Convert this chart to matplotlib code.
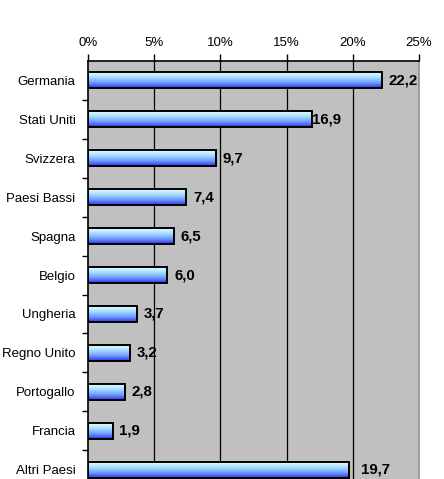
import matplotlib.pyplot as plt
import numpy as np
from matplotlib.colors import LinearSegmentedColormap

paesi = ["Germania", "Stati Uniti", "Svizzera", "Paesi Bassi", "Spagna", "Belgio",
         "Ungheria", "Regno Unito", "Portogallo", "Francia", "Altri Paesi"]
quote = [22.2, 16.9, 9.7, 7.4, 6.5, 6.0, 3.7, 3.2, 2.8, 1.9, 19.7]
etichette = ["22,2", "16,9", "9,7", "7,4", "6,5", "6,0", "3,7", "3,2", "2,8", "1,9", "19,7"]
x_ticks = [0, 5, 10, 15, 20, 25]

# spostamento orizzontale delle etichette (punti), come nell'originale Excel
offset_pt = [4.5, 0, 4.5, 5, 4.5, 5, 5, 4.5, 4.5, 4.5, 9]

plt.rcParams["font.family"] = ["Liberation Sans", "DejaVu Sans"]

fig = plt.figure(figsize=(4.44, 4.79), dpi=100)
ax = fig.add_axes([88 / 444, 0.0, 331 / 444, 1 - 61 / 479])
ax.set_facecolor("#c0c0c0")

pos = np.arange(len(paesi))
bars = ax.barh(pos, quote, height=0.41, facecolor="none", edgecolor="black",
               linewidth=1.4, zorder=4)

grad_cmap = LinearSegmentedColormap.from_list(
    "grad", ["#e6ffff", "#a8dcff", "#6f9cff", "#2e33ee"])
grad = np.linspace(0, 1, 64).reshape(-1, 1)
for b in bars:
    x0, y0, w, h = b.get_x(), b.get_y(), b.get_width(), b.get_height()
    ax.imshow(grad, cmap=grad_cmap, aspect="auto", interpolation="bilinear",
              extent=(x0, x0 + w, y0 + h, y0), origin="upper", zorder=3)

for b, lab, off in zip(bars, etichette, offset_pt):
    ax.annotate(lab, (b.get_width(), b.get_y() + b.get_height() / 2),
                xytext=(off, 0), textcoords="offset points",
                ha="left", va="center", fontsize=10.8, fontweight="bold", zorder=5)

ax.set_xlim(0, 25)
ax.set_ylim(10.24, -0.5)

ax.xaxis.tick_top()
ax.set_xticks(x_ticks)
ax.set_xticklabels([f"{t}%" for t in x_ticks], fontsize=9.5)
ax.tick_params(axis="x", direction="out", length=5, width=1, pad=3.5, color="black")
for t in x_ticks[1:-1]:
    ax.axvline(t, color="black", linewidth=0.9, zorder=1)

ax.set_yticks(pos)
ax.set_yticklabels(paesi, fontsize=9.5)
ax.tick_params(axis="y", which="major", length=0, pad=9)
ax.set_yticks(np.arange(0.5, 10.5, 1.0), minor=True)
ax.tick_params(axis="y", which="minor", direction="out", length=4, width=1, color="black")

ax.spines["top"].set_linewidth(1.2)
ax.spines["left"].set_linewidth(1.2)
ax.spines["right"].set_color("#909090")
ax.spines["right"].set_linewidth(1.2)
ax.spines["bottom"].set_visible(False)

fig.savefig("out.png", dpi=100)
